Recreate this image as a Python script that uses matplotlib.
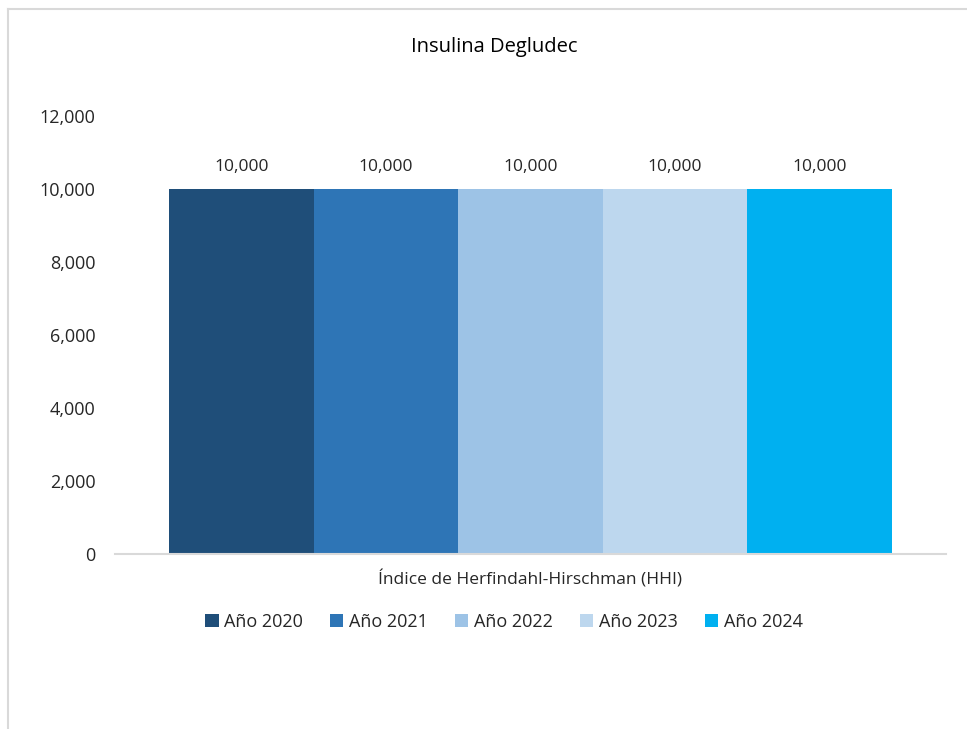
import matplotlib.pyplot as plt
from matplotlib.lines import Line2D
from matplotlib.ticker import FuncFormatter

plt.rcParams['font.family'] = ['Open Sans', 'DejaVu Sans']

# data
series = ['Año 2020', 'Año 2021', 'Año 2022', 'Año 2023', 'Año 2024']
values = [10000, 10000, 10000, 10000, 10000]
colors = ['#1F4E79', '#2E75B6', '#9DC3E6', '#BDD7EE', '#00B0F0']
category = 'Índice de Herfindahl-Hirschman (HHI)'

fig = plt.figure(figsize=(9.67, 7.29), dpi=100)
ax = fig.add_axes([0.119, 0.240, 0.859, 0.601])

w = 0.87 / len(series)
start = -0.87 / 2 + w / 2
for i, (s, v, c) in enumerate(zip(series, values, colors)):
    b = ax.bar(start + i * w, v, width=w, color=c, label=s)
    ax.bar_label(b, labels=[f'{v:,}'], padding=10, fontsize=12.5, color='#262626')

ax.set_xlim(-0.5, 0.5)
ax.set_ylim(0, 12000)
ax.set_yticks(range(0, 12001, 2000))
ax.yaxis.set_major_formatter(FuncFormatter(lambda x, p: f'{int(x):,}'))
ax.tick_params(axis='y', length=0, labelsize=13, pad=14, labelcolor='#262626')
ax.set_xticks([0])
ax.set_xticklabels([category])
ax.tick_params(axis='x', length=0, labelsize=12.5, pad=12, labelcolor='#262626')

for sp in ['top', 'right', 'left']:
    ax.spines[sp].set_visible(False)
ax.spines['bottom'].set_color('#D9D9D9')
ax.spines['bottom'].set_linewidth(1.5)

ax.set_title('Insulina Degludec', fontsize=14.5, color='black', pad=46,
             fontweight='medium', x=0.456)

ax.legend(loc='center', bbox_to_anchor=(0.468, -0.155), ncol=5, frameon=False,
          fontsize=13, handlelength=0.75, handleheight=0.75, handletextpad=0.3,
          columnspacing=1.5, labelcolor='#262626')

# chart area border (top and left edges visible)
fig.add_artist(Line2D([8 / 967, 1], [1 - 9 / 729, 1 - 9 / 729], transform=fig.transFigure,
                      color='#D9D9D9', lw=1.5))
fig.add_artist(Line2D([8 / 967, 8 / 967], [0, 1 - 9 / 729], transform=fig.transFigure,
                      color='#D9D9D9', lw=1.5))

fig.savefig('out.png', dpi=100)
